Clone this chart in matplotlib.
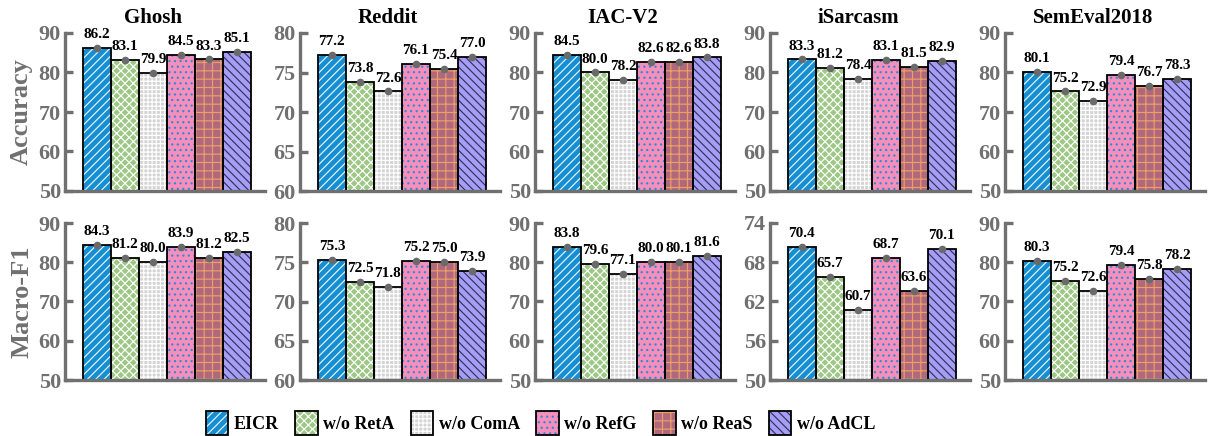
import numpy as np
import matplotlib
matplotlib.use("Agg")
import matplotlib.pyplot as plt
from matplotlib.patches import Patch

plt.rcParams['font.family'] = ['Liberation Serif', 'DejaVu Serif']
plt.rcParams['font.weight'] = 'bold'
plt.rcParams['hatch.linewidth'] = 0.85

# data
datasets = ["Ghosh", "Reddit", "IAC-V2", "iSarcasm", "SemEval2018"]
variants = ["EICR", "w/o RetA", "w/o ComA", "w/o RefG", "w/o ReaS", "w/o AdCL"]

acc_ghosh = [86.2, 83.1, 79.9, 84.5, 83.3, 85.1]
acc_reddit = [77.2, 73.8, 72.6, 76.1, 75.4, 77.0]
acc_iac = [84.5, 80.0, 78.2, 82.6, 82.6, 83.8]
acc_isarc = [83.3, 81.2, 78.4, 83.1, 81.5, 82.9]
acc_semeval = [80.1, 75.2, 72.9, 79.4, 76.7, 78.3]

f1_ghosh = [84.3, 81.2, 80.0, 83.9, 81.2, 82.5]
f1_reddit = [75.3, 72.5, 71.8, 75.2, 75.0, 73.9]
f1_iac = [83.8, 79.6, 77.1, 80.0, 80.1, 81.6]
f1_isarc = [70.4, 65.7, 60.7, 68.7, 63.6, 70.1]
f1_semeval = [80.3, 75.2, 72.6, 79.4, 75.8, 78.2]

acc_rows = [acc_ghosh, acc_reddit, acc_iac, acc_isarc, acc_semeval]
f1_rows = [f1_ghosh, f1_reddit, f1_iac, f1_isarc, f1_semeval]

acc_ticks = [[50, 60, 70, 80, 90], [60, 65, 70, 75, 80], [50, 60, 70, 80, 90],
             [50, 60, 70, 80, 90], [50, 60, 70, 80, 90]]
f1_ticks = [[50, 60, 70, 80, 90], [60, 65, 70, 75, 80], [50, 60, 70, 80, 90],
            [50, 56, 62, 68, 74], [50, 60, 70, 80, 90]]

# styles: face, hatch, hatch colour
faces = ["#158fd1", "#9cc785", "#d4d4d4", "#f68fbb", "#b0687e", "#a59df6"]
hatches = ["////", "xxxx", "++++", "...", "++", "\\\\\\\\"]
hcolors = ["#e8f4ff", "#ffffff", "#ffffff", "#2f8ad6", "#eea064", "#33335a"]
grey = "#707070"

fig = plt.figure(figsize=(12.09, 4.36), dpi=100)
W, H = 1209, 436
x = np.arange(6)


def draw(ax, vals, ticks):
    for i in range(6):
        ax.bar(x[i], vals[i], width=1.0, bottom=0, color=faces[i], hatch=hatches[i],
               edgecolor=hcolors[i], linewidth=0, zorder=2)
        ax.bar(x[i], vals[i], width=1.0, fill=False, edgecolor="black",
               linewidth=1.3, zorder=3)
    ax.errorbar(x, vals, yerr=0.0, fmt="o", color="#6a6a6a", ms=4.5, zorder=4)
    for i in range(6):
        ax.annotate(f"{vals[i]:.1f}", (x[i], vals[i]), xytext=(0, 5),
                    textcoords="offset points", ha="center", va="bottom",
                    fontsize=11, fontweight="bold", color="black", zorder=5)
    ax.set_ylim(ticks[0], ticks[-1])
    ax.set_xlim(-1.14, 6.0)
    ax.set_yticks(ticks)
    ax.set_xticks(x)
    ax.set_xticklabels([])
    ax.tick_params(axis="y", direction="in", length=6, width=2.4, color=grey,
                   labelcolor=grey, labelsize=16, pad=3)
    ax.tick_params(axis="x", direction="in", length=8, width=2.4, color=grey)
    for lbl in ax.get_yticklabels():
        lbl.set_fontweight("bold")
    for s in ["top", "right"]:
        ax.spines[s].set_visible(False)
    for s in ["left", "bottom"]:
        ax.spines[s].set_color(grey)
        ax.spines[s].set_linewidth(2.4)
        ax.spines[s].set_zorder(6)


axis_x = [65, 300, 535, 770, 1005]
for c in range(5):
    ax = fig.add_axes([axis_x[c] / W, (H - 191) / H, 200 / W, 158 / H])
    draw(ax, acc_rows[c], acc_ticks[c])
    ax.set_title(datasets[c], fontsize=15, fontweight="bold", pad=7, x=0.44)
    if c == 0:
        ax.set_ylabel("Accuracy", fontsize=19, fontweight="bold", color=grey, labelpad=4)

    ax = fig.add_axes([axis_x[c] / W, (H - 380) / H, 200 / W, 157 / H])
    draw(ax, f1_rows[c], f1_ticks[c])
    if c == 0:
        ax.set_ylabel("Macro-F1", fontsize=19, fontweight="bold", color=grey, labelpad=4)

handles = []
for i in range(6):
    p1 = Patch(facecolor=faces[i], hatch=hatches[i], edgecolor=hcolors[i], linewidth=0)
    p2 = Patch(fill=False, edgecolor="black", linewidth=1.3)
    handles.append((p1, p2))

fig.legend(handles, variants, loc="center", bbox_to_anchor=(0.447, 0.03), ncol=6,
           frameon=False, prop={"weight": "bold", "size": 13},
           handlelength=1.25, handleheight=1.6, handletextpad=0.3, columnspacing=0.9)

fig.savefig("out.png", dpi=100)
